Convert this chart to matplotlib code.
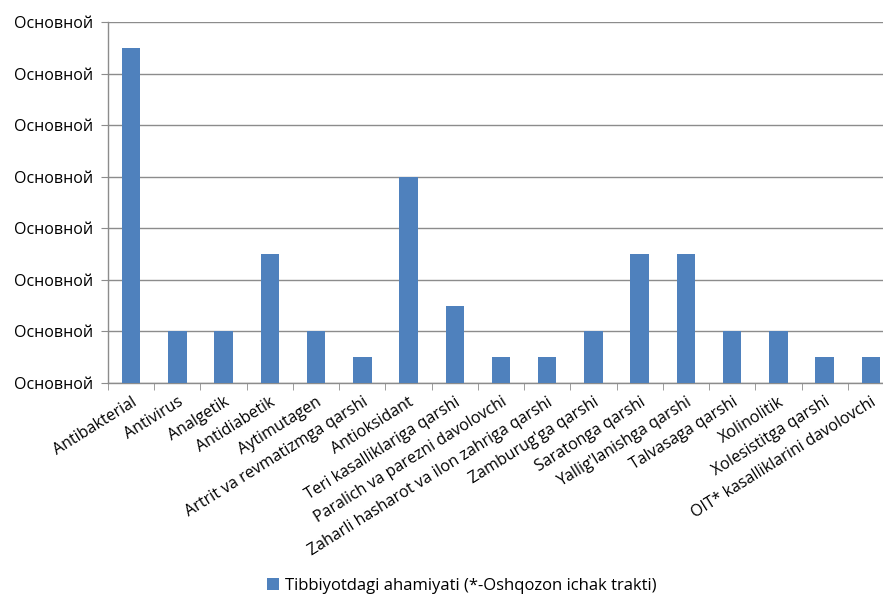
import numpy as np
import matplotlib
matplotlib.use('Agg')
import matplotlib.pyplot as plt
from matplotlib.ticker import FixedLocator, FuncFormatter

plt.rcParams['font.family'] = ['Open Sans', 'DejaVu Sans']

categories = ['Antibakterial', 'Antivirus', 'Analgetik', 'Antidiabetik', 'Aytimutagen',
              'Artrit va revmatizmga qarshi', 'Antioksidant', 'Teri kasalliklariga qarshi',
              'Paralich va parezni davolovchi', 'Zaharli hasharot va ilon zahriga qarshi',
              "Zamburug'ga qarshi", 'Saratonga qarshi', "Yallig'lanishga qarshi",
              'Talvasaga qarshi', 'Xolinolitik', 'Xolesistitga qarshi',
              'OIT* kasalliklarini davolovchi']
values = [6.5, 1, 1, 2.5, 1, 0.5, 4, 1.5, 0.5, 0.5, 1, 2.5, 2.5, 1, 1, 0.5, 0.5]
series_name = 'Tibbiyotdagi ahamiyati (*-Oshqozon ichak trakti)'
y_label = 'Основной'

bar_color = '#4F81BD'
grid_color = '#8c8c8c'

fig = plt.figure(figsize=(8.83, 5.96), dpi=100)
ax = fig.add_axes([108/883, 213/596, 786/883, 361/596])

x = np.arange(len(categories))
ax.bar(x, values, width=0.4, color=bar_color, zorder=3, label=series_name)

ax.set_xlim(-0.5, len(categories) - 0.5)
ax.set_ylim(0, 7)
ax.yaxis.set_major_locator(FixedLocator(range(8)))
ax.yaxis.set_major_formatter(FuncFormatter(lambda v, p: y_label))
ax.grid(axis='y', color=grid_color, linewidth=1, zorder=0)

for s in ['top', 'right']:
    ax.spines[s].set_visible(False)
for s in ['left', 'bottom']:
    ax.spines[s].set_color(grid_color)
    ax.spines[s].set_linewidth(1)

ax.tick_params(axis='y', length=5, color=grid_color, labelsize=11.5, pad=6)
ax.set_xticks(x)
ax.set_xticklabels(categories, rotation=32, ha='right', rotation_mode='anchor', fontsize=11.5)
ax.tick_params(axis='x', which='major', length=0, pad=8)
ax.set_xticks(np.arange(len(categories) + 1) - 0.5, minor=True)
ax.tick_params(axis='x', which='minor', length=5, color=grid_color)

fig.legend(loc='center', bbox_to_anchor=(0.523, 0.017), frameon=False,
           fontsize=12, handlelength=0.7, handleheight=0.7, handletextpad=0.4)

fig.savefig('out.png', dpi=100)
